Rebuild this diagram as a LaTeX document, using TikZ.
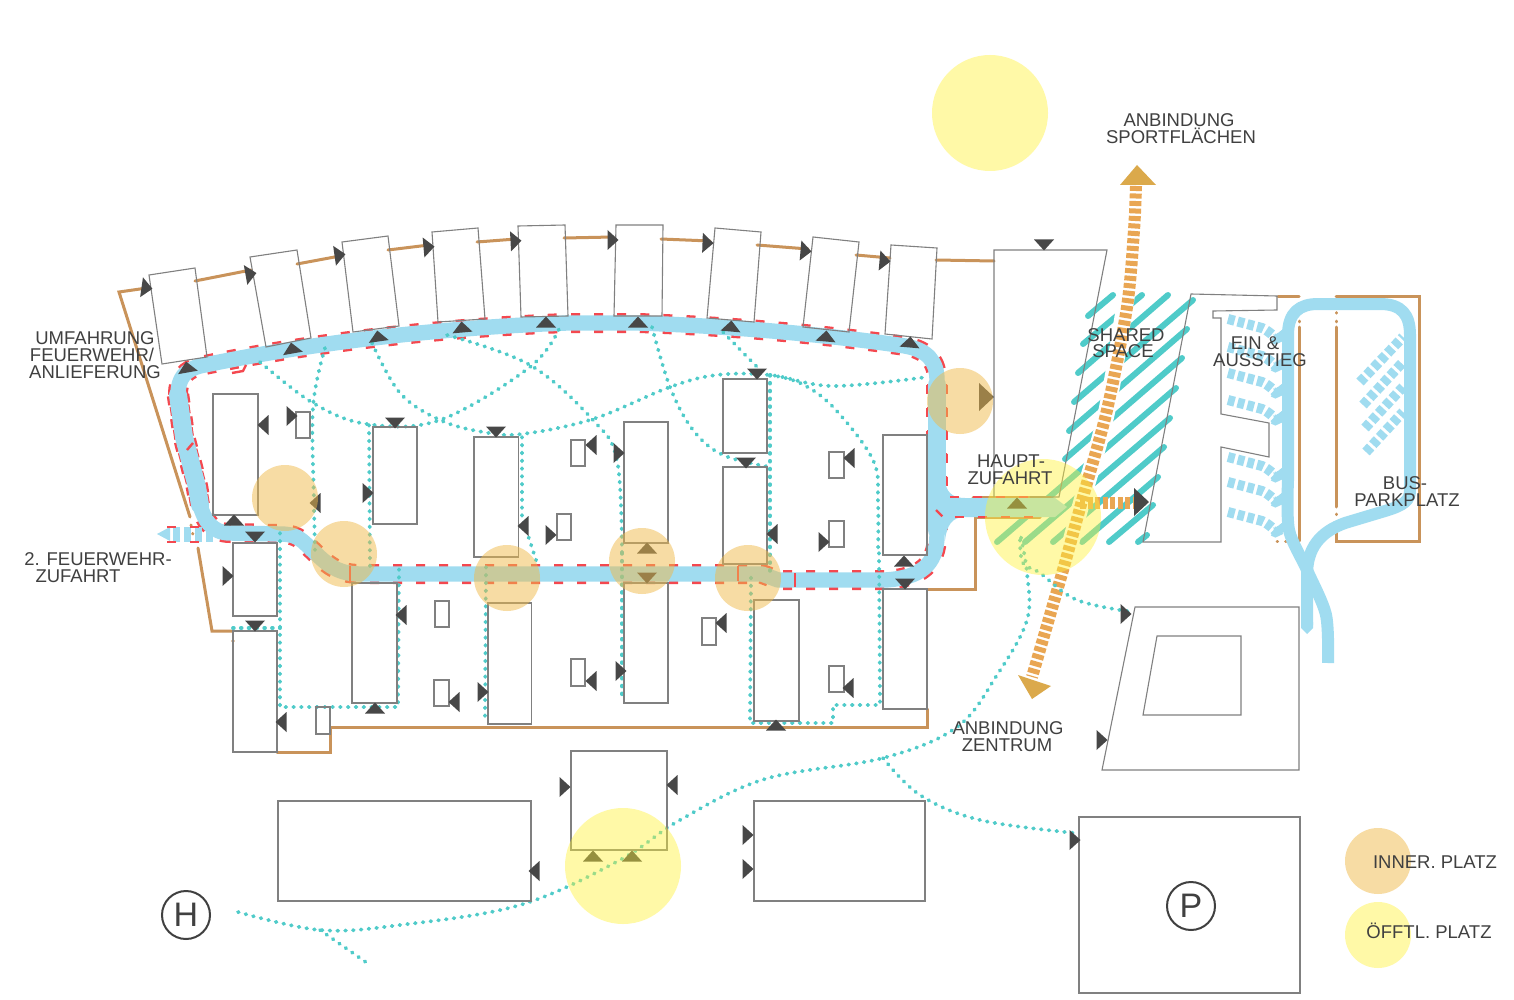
\documentclass[tikz,border=0pt]{standalone}
\usepackage{fontspec}
\setmainfont{Liberation Sans}
\definecolor{roadblue}{HTML}{A0DCF0}
\definecolor{tealc}{HTML}{4FCBC9}
\definecolor{brownc}{HTML}{C9935A}
\definecolor{redc}{HTML}{F4484F}
\definecolor{darktri}{HTML}{474747}
\definecolor{orangeh}{HTML}{E9A653}
\definecolor{headc}{HTML}{DBA94B}
\definecolor{circo}{HTML}{F0BA4A}
\definecolor{circy}{HTML}{FFF235}
\definecolor{grayl}{HTML}{808080}
\definecolor{textc}{HTML}{404040}
\tikzset{
 bld/.style={draw=grayl,line width=1.1pt,line join=miter},
 brownline/.style={draw=brownc,line width=3pt,line cap=round,line join=miter},
 browndot/.style={draw=brownc,line width=3pt,line cap=round,dash pattern=on 0.6pt off 8pt},
 tealdot/.style={draw=tealc,line width=3.8pt,line cap=round,dash pattern=on 0.8pt off 7pt},
 hatchl/.style={draw=tealc,line width=6pt,line cap=round},
 oranged/.style={draw=orangeh,line width=12pt,dash pattern=on 5pt off 2.5pt},
 blued/.style={draw=roadblue,line width=10pt,dash pattern=on 6.8pt off 3.2pt},
 redd/.style={draw=redc,line width=2.4pt,line join=round,dash pattern=on 9pt off 14pt},
 busroad/.style={draw=roadblue,line width=12pt,line join=round},
 tricol/.style={fill=darktri},
 innerc/.style={fill=circo,fill opacity=.5},
 publc/.style={fill=circy,fill opacity=.43},
 lbl/.style={text=textc,font=\fontsize{18.5}{18.5}\selectfont,inner sep=0pt,anchor=center},
 mainroad/.style={line join=round},
}
\newcommand\tr[3]{\fill[tricol,shift={(#1,#2)},rotate=#3] (5.5,0)--(-5.5,10)--(-5.5,-10)--cycle;}
\newcommand\trbig[3]{\fill[tricol,shift={(#1,#2)},rotate=#3] (8,0)--(-7,14)--(-7,-14)--cycle;}
\newcommand\bx[4]{\draw[bld] (#1,#2) rectangle (#3,#4);}
\newcommand\mainloop{(178,395) .. controls (178,378) and (185,370) .. (200,366) .. controls (300,345) and (430,328) .. (567,323) -- (638,323) .. controls (730,326) and (830,335) .. (905,346) .. controls (928,350) and (937,362) .. (937,380) -- (937,535) .. controls (937,565) and (920,578) .. (885,580) -- (778,580) -- (762,574) -- (360,574) .. controls (335,574) and (325,562) .. (310,548) .. controls (300,538) and (295,534) .. (280,534) -- (230,533) .. controls (212,533) and (204,520) .. (200,505) -- (197,487) -- (184,437) -- cycle}
\begin{document}
\begin{tikzpicture}[x=1pt,y=-1pt]
\useasboundingbox (0,0) rectangle (1514,1000);
\fill[white] (0,0) rectangle (1514,1000);

% hatch of shared space
\draw[hatchl] (1088,316)--(1113,295);
\draw[hatchl] (1083,344)--(1142,295);
\draw[hatchl] (1078,373)--(1168,295);
\draw[hatchl] (1074,402)--(1193,300);
\draw[hatchl] (1069,431)--(1187,329);
\draw[hatchl] (1065,459)--(1182,358);
\draw[hatchl] (997,542)--(1176,388);
\draw[hatchl] (1025,542)--(1170,418);
\draw[hatchl] (1053,542)--(1164,447);
\draw[hatchl] (1082,542)--(1158,477);
\draw[hatchl] (1109,542)--(1153,505);
\draw[hatchl] (1138,542)--(1147,535);

% brown boundary
\draw[brownline] (147,288)--(119,292)--(190,517);
\draw[browndot] (191,525)--(193,535);
\draw[brownline] (198,548)--(212,631)--(233,631);
\fill[brownc] (233,641) circle (1.8);
\draw[brownline] (195,281)--(251,270);
\draw[brownline] (297,264)--(340,256);
\draw[brownline] (388,250)--(429,245);
\draw[brownline] (477,242)--(516,239);
\draw[brownline] (564,238)--(613,237);
\draw[brownline] (661,239)--(710,241);
\draw[brownline] (757,245)--(808,249);
\draw[brownline] (856,255)--(890,258);
\draw[brownline] (936,260)--(994,261);
\draw[brownline] (277,752)--(330,752)--(330,727)--(927,727)--(927,709);
\draw[brownline] (927,589)--(975,589)--(975,517)--(1040,517);
\draw[brownline] (973,497)--(1050,497);
\draw[brownline] (973,503)--(973,510);
\draw[brownline] (1278,296)--(1299,296);
\draw[browndot] (1299,304)--(1299,322);
\draw[brownline] (1299,327)--(1299,541);
\draw[browndot] (1277,541)--(1292,541);
\draw[brownline] (1336,296)--(1419,296)--(1419,541)--(1336,541)--(1336,530);
\draw[browndot] (1336,304)--(1336,322);
\draw[brownline] (1336,327)--(1336,507);
\draw[browndot] (1336,514)--(1336,526);

% main road: red edge layer, then blue
\draw[redd,line width=20pt] \mainloop;
\draw[redd,line width=22.5pt] (178,395)--(184,437)--(197,487)--(200,505);
\draw[redd,line width=22.5pt] (937,385)--(937,530);
\draw[draw=roadblue,mainroad,line width=15.4pt] \mainloop;
\draw[draw=roadblue,mainroad,line cap=round,line width=18pt] (178,395)--(184,437)--(197,487)--(200,505);
\draw[draw=roadblue,line cap=round,line width=18pt] (937,385)--(937,530);
% left branch
\fill[roadblue] (157,534)--(170,527)--(170,541)--cycle;
\draw[draw=roadblue,line width=15pt,dash pattern=on 7pt off 4pt] (173,534)--(215,534);
\draw[redd] (167,527)--(205,527);
\draw[redd] (167,542)--(205,542);
% junction to main access
\fill[roadblue] (945,480) .. controls (946,492) and (952,498) .. (965,498)--(1055,498)--(1067,507)--(1055,517)--(965,517) .. controls (952,517) and (947,525) .. (945,540)--cycle;
\draw[redd] (950,497)--(1042,497);
\draw[redd] (955,517)--(1042,517);
\draw[redd] (936,510)--(946,520);

% small red kinks
\draw[redc,line width=2.4pt] (246,365)--(243,371)--(232,373);
\draw[redc,line width=2.4pt] (193,443)--(187,450);
\draw[redc,line width=2.4pt] (350,566)--(350,581);
\draw[redc,line width=2.4pt] (738,566)--(738,581);
\draw[redc,line width=2.4pt] (795,573)--(795,587);

% bus road
\draw[busroad] plot[smooth,tension=.5] coordinates {(1328,663)(1326,615)(1307,570)(1289,530)(1288,480)};
\draw[busroad] (1288,480)--(1288,335) .. controls (1288,312) and (1300,304) .. (1318,304)--(1380,304) .. controls (1402,304) and (1410,315) .. (1410,335)--(1410,490) .. controls (1410,500) and (1405,505) .. (1385,511)--(1345,523) .. controls (1320,532) and (1307,548) .. (1307,575)--(1307,625);
\fill[roadblue] (1301,622)--(1313,622)--(1313,628)--(1307,634)--(1301,628)--cycle;

% bus bay dashes
\foreach \yy in {319,347,373,400,457,482,512}{
 \draw[blued] (1228,\yy) -- ++(34,9) .. controls +(6,2) and +(9,5) .. +(11,10);
 \draw[draw=roadblue,line width=8pt] (1278,\yy+19)--(1287,\yy+12);
}
\draw[blued] (1360,382)--(1403,337);
\draw[blued] (1363,405)--(1403,362);
\draw[blued] (1365,428)--(1403,387);
\draw[blued] (1366,452)--(1403,412);

% orange routes
\draw[draw=white,line width=17pt] plot[smooth,tension=.5] coordinates {(1128,285)(1107,410)(1083,497)(1066,560)};
\draw[oranged] plot[smooth,tension=.5] coordinates {(1136,186)(1134,230)(1127,307)(1107,410)(1083,497)(1063,570)(1032,677)};
\fill[headc] (1137,165)--(1156,185)--(1120,185)--cycle;
\fill[headc] (1018,675)--(1051,686)--(1032,699)--cycle;
\draw[oranged] (1080,503)--(1136,503);

% teal footpaths
\draw[tealdot] plot[smooth,tension=.6] coordinates {(260,362)(313,403)(367,424)(440,420)(530,367)(560,327)};
\draw[tealdot] plot[smooth,tension=.6] coordinates {(325,348)(313,407)(314,503)(315,550)};
\draw[tealdot] plot[smooth,tension=.6] coordinates {(372,343)(400,393)(440,420)(483,432)(522,434)(593,419)(670,387)(717,375)(770,375)(833,386)(927,377)};
\draw[tealdot] plot[smooth,tension=.6] coordinates {(447,335)(530,365)(593,420)(617,460)(622,553)};
\draw[tealdot] (622,553)--(622,700);
\draw[tealdot] plot[smooth,tension=.6] coordinates {(652,327)(670,387)(693,430)(723,455)(770,467)};
\draw[tealdot] plot[smooth,tension=.6] coordinates {(723,332)(757,367)};
\draw[tealdot] plot[smooth,tension=.6] coordinates {(770,375)(800,383)(833,407)(873,460)(878,503)(878,553)};
\draw[tealdot] (879,553)--(880,705)--(833,705)--(833,723)--(750,723)--(751,575);
\draw[tealdot] (770,375)--(770,577);
\draw[tealdot] (369,425)--(370,567);
\draw[tealdot] (522,437)--(522,517)--(537,563);
\draw[tealdot] (486,567)--(485,720);
\draw[tealdot] (280,533)--(280,707)--(398,707)--(399,567);
\draw[tealdot] (233,628)--(280,628);
\draw[tealdot] plot[smooth,tension=.6] coordinates {(238,912)(320,930)(400,925)(520,905)(620,860)(680,820)(765,779)(883,758)(957,727)(997,675)(1027,620)(1027,573)(1020,533)};
\draw[tealdot] plot[smooth,tension=.6] coordinates {(320,930)(370,965)};
\draw[tealdot] plot[smooth,tension=.6] coordinates {(883,758)(920,795)(980,820)(1075,833)};
\draw[tealdot] plot[smooth,tension=.6] coordinates {(1020,540)(1023,563)(1040,573)(1077,600)(1133,612)};

% top row buildings
\draw[bld] (149,275)--(195,268)--(207,357)--(162,364)--cycle;
\draw[bld] (250,257)--(297,250)--(311,338)--(266,347)--cycle;
\draw[bld] (342,242)--(388,236)--(399,326)--(353,332)--cycle;
\draw[bld] (432,232)--(478,228)--(485,319)--(438,322)--cycle;
\draw[bld] (518,226)--(565,225)--(568,316)--(521,317)--cycle;
\draw[bld] (616,225)--(663,225)--(662,316)--(614,316)--cycle;
\draw[bld] (715,228)--(761,232)--(754,322)--(707,318)--cycle;
\draw[bld] (813,237)--(859,242)--(849,332)--(803,327)--cycle;
\draw[bld] (891,245)--(937,248)--(932,339)--(885,334)--cycle;
% large buildings right
\draw[bld] (994,497)--(994,250)--(1107,250)--(1059,497)--(1030,497);
\draw[bld] (1191,294)--(1277,296)--(1277,310)--(1213,311)--(1213,318)--(1221,318)--(1221,414)--(1269,423)--(1269,457)--(1221,447)--(1221,542)--(1143,542)--cycle;
\draw[bld] (1135,607)--(1299,607)--(1299,770)--(1102,770)--cycle;
\draw[bld] (1157,636)--(1241,636)--(1241,715)--(1143,715)--cycle;
% housing rows
\bx{213}{394}{258}{515}
\bx{296}{412}{310}{438}
\bx{373}{427}{417}{524}
\bx{474}{437}{518.5}{557}
\bx{557}{514}{571}{540}
\bx{571}{440}{585}{466}
\bx{624}{422}{668}{543}
\bx{624}{583}{668}{703}
\bx{723}{379}{767}{453}
\bx{723}{467}{767}{564}
\bx{829}{452}{844}{478}
\bx{829}{521}{844}{547}
\bx{883}{435}{927}{555}
\bx{883}{589}{927}{709}
\bx{754}{600}{799}{721}
\bx{829}{666}{844}{692}
\bx{702}{618}{716}{645}
\bx{571}{659}{585}{686}
\bx{488}{603}{531.5}{724}
\bx{434}{680}{449}{706}
\bx{435}{601}{449}{627}
\bx{352}{583}{397}{703}
\bx{233}{543}{277}{616}
\bx{233}{631}{277}{752}
\bx{316}{707}{330}{734}
\bx{278}{801}{531}{901}
\bx{571}{751}{667}{850}
\bx{754}{801}{925}{901}
\bx{1079}{817}{1300}{993}

% arrow markers
\tr{147}{288}{-8}\tr{251}{274}{10}\tr{340}{255}{8}\tr{429}{247}{5}\tr{516}{241}{3}
\tr{613}{240}{0}\tr{708}{243}{-2}\tr{806}{251}{-5}\tr{885}{261}{-5}
\tr{187}{367}{100}\tr{292}{348}{100}\tr{378}{336}{98}\tr{462}{327}{95}\tr{546}{322}{90}
\tr{638}{322}{90}\tr{731}{326}{85}\tr{826}{336}{85}\tr{910}{342}{85}
\tr{1044}{245}{-90}
\tr{263}{425}{180}\tr{292}{416}{0}\tr{234}{520}{90}\tr{255}{537}{-90}\tr{315}{503}{180}
\tr{368}{493}{0}\tr{395}{423}{-90}\tr{496}{432}{-90}\tr{523}{526}{180}\tr{551}{535}{0}
\tr{591}{445}{180}\tr{619}{453}{0}\tr{757}{374}{-90}\tr{746}{463}{-90}\tr{772}{534}{180}
\tr{849}{458}{180}\tr{824}{542}{0}\tr{904}{561}{90}\tr{905}{584}{-90}\tr{776}{725}{90}
\tr{848}{688}{180}\tr{721}{623}{180}\tr{621}{671}{0}\tr{591}{681}{180}\tr{483}{692}{0}
\tr{454}{702}{180}\tr{401}{615}{180}\tr{375}{708}{90}\tr{228}{576}{0}\tr{255}{626}{-90}
\tr{281}{722}{180}\tr{647}{548}{90}\tr{647}{578}{-90}\tr{1017}{503}{90}
\tr{1126}{614}{0}\tr{1102}{740}{0}\tr{1075}{840}{0}\tr{748}{835}{0}\tr{748}{869}{0}
\tr{534}{871}{180}\tr{565}{787}{0}\tr{672}{785}{180}\tr{593}{856}{90}\tr{632}{856}{90}
\trbig{986}{397}{0}
\trbig{1141}{502}{0}

% squares
\fill[innerc] (285,498) circle (33);
\fill[innerc] (344,554) circle (33);
\fill[innerc] (507,578) circle (33);
\fill[innerc] (642,561) circle (33);
\fill[innerc] (748,578) circle (33);
\fill[innerc] (960,401) circle (33);
\fill[innerc] (1378,861) circle (33);
\fill[publc] (990,113) circle (58);
\fill[publc] (1043,517) circle (58);
\fill[publc] (623,866) circle (58);
\fill[publc] (1378,935) circle (33);

% labels
\node[lbl] (u1) at (95,338) {UMFAHRUNG};
\node[lbl] (u2) at (92,355) {FEUERWEHR/};
\node[lbl] (u3) at (95,372) {ANLIEFERUNG};
\node[lbl] (f1) at (98,559) {2. FEUERWEHR-};
\node[lbl] (f2) at (78,576) {ZUFAHRT};
\node[lbl] (a1) at (1179,120) {ANBINDUNG};
\node[lbl] (a2) at (1181,136) {SPORTFLÄCHEN};
\node[lbl] (s1) at (1126,335) {SHARED};
\node[lbl] (s2) at (1123,351) {SPACE};
\node[lbl] (e1) at (1255,343) {EIN \&};
\node[lbl] (e2) at (1260,360) {AUSSTIEG};
\node[lbl] (h1) at (1011,461) {HAUPT-};
\node[lbl] (h2) at (1010,478) {ZUFAHRT};
\node[lbl] (z1) at (1008,728) {ANBINDUNG};
\node[lbl] (z2) at (1007,745) {ZENTRUM};
\node[lbl] (b1) at (1405,483) {BUS-};
\node[lbl] (b2) at (1407,500) {PARKPLATZ};
\node[lbl] (l1) at (1435,862) {INNER. PLATZ};
\node[lbl] (l2) at (1429,931) {ÖFFTL. PLATZ};
\node[draw=textc,line width=2pt,circle,minimum size=48pt,inner sep=0pt,text=textc,font=\fontsize{34}{34}\selectfont] (hh) at (186,915) {H};
\node[draw=textc,line width=2pt,circle,minimum size=48pt,inner sep=0pt,text=textc,font=\fontsize{34}{34}\selectfont] (pp) at (1191,906) {P};
\end{tikzpicture}
\end{document}
